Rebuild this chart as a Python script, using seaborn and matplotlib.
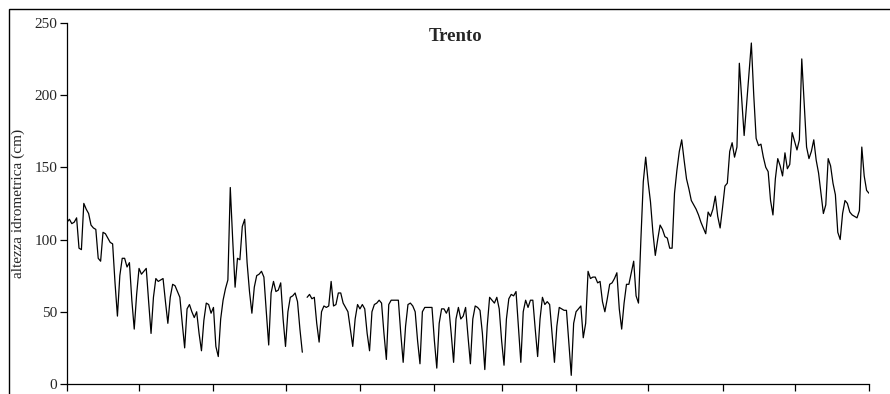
import numpy as np
import pandas as pd
import matplotlib
matplotlib.use("Agg")
import matplotlib.pyplot as plt
from matplotlib.patches import Rectangle
import seaborn as sns

# daily water level (cm), one list per month, Sep 2002 .. 1 Aug 2003
sep = [112, 114, 111, 112, 115, 94, 93, 125, 121, 118, 110, 108, 107, 87, 85,
       105, 104, 101, 98, 97, 70, 47, 75, 87, 87, 81, 84, 58, 38, 62]
oct_ = [80, 76, 78, 80, 57, 35, 60, 73, 71, 72, 73, 57, 42, 60, 69, 68, 64, 60,
        42, 25, 52, 55, 50, 46, 50, 35, 23, 44, 56, 55, 49]
nov = [53, 26, 19, 45, 58, 66, 72, 136, 100, 67, 87, 86, 109, 114, 84, 64, 49,
       67, 75, 76, 78, 74, 50, 27, 63, 71, 64, 65, 70, 45]
dec = [26, 50, 60, 61, 63, 57, 38, 22, np.nan, 60, 62, 59, 60, 42, 29, 50, 54,
       53, 54, 71, 54, 55, 63, 63, 56, 53, 50, 38, 26, 45, 55]
jan = [52, 55, 52, 35, 23, 50, 55, 56, 58, 56, 35, 17, 55, 58, 58, 58, 58, 35,
       15, 40, 55, 56, 54, 50, 30, 14, 50, 53, 53, 53, 53]
feb = [30, 11, 42, 52, 52, 49, 53, 35, 15, 45, 53, 45, 47, 53, 33, 14, 45, 54,
       53, 51, 35, 10, 40, 60, 58, 56, 60, 52]
mar = [30, 13, 45, 59, 62, 61, 64, 40, 15, 50, 58, 53, 58, 58, 38, 19, 45, 60,
       55, 57, 55, 35, 15, 40, 53, 52, 51, 51, 28, 6, 42]
apr = [50, 52, 54, 32, 42, 78, 73, 74, 74, 70, 71, 57, 50, 59, 69, 70, 73, 77,
       52, 38, 56, 69, 69, 77, 85, 61, 56, 100, 140, 157]
may = [140, 126, 105, 89, 100, 110, 107, 102, 101, 94, 94, 132, 148, 161, 169,
       155, 142, 135, 127, 124, 121, 117, 112, 108, 104, 119, 116, 121, 130,
       116, 108]
jun = [122, 137, 139, 161, 167, 157, 164, 222, 197, 172, 193, 215, 236, 200,
       170, 165, 166, 157, 150, 147, 127, 117, 142, 156, 151, 144, 160, 149,
       152, 174]
jul = [168, 162, 169, 225, 195, 164, 156, 161, 169, 155, 146, 132, 118, 124,
       156, 151, 139, 131, 105, 100, 118, 127, 125, 119, 117, 116, 115, 120,
       164, 144, 134]
aug = [132]

months = [sep, oct_, nov, dec, jan, feb, mar, apr, may, jun, jul, aug]
y_ticks = [0, 50, 100, 150, 200, 250]
title = "Trento"
y_label = "altezza idrometrica (cm)"

values = np.concatenate([np.array(m, dtype=float) for m in months])
dates = pd.date_range("2002-09-01", periods=len(values), freq="D")
df = pd.DataFrame({"data": dates, "livello": values})
# missing days break the line
df["tratto"] = df["livello"].isna().cumsum()
df = df.dropna()

sns.set_theme(style="ticks")
plt.rcParams["font.family"] = ["Liberation Serif", "DejaVu Serif"]

fig = plt.figure(figsize=(8.9, 3.94), dpi=100)
ax = fig.add_axes([67 / 890, 10 / 394, 802 / 890, 361.2 / 394])

sns.lineplot(data=df, x="data", y="livello", units="tratto", estimator=None,
             color="black", linewidth=0.9, ax=ax)

ax.set_xlim(pd.Timestamp("2002-09-01"), pd.Timestamp("2003-08-01"))
ax.set_xticks(pd.date_range("2002-09-01", "2003-08-01", freq="MS"))
ax.set_xticklabels([])
ax.set_ylim(0, 250)
ax.set_yticks(y_ticks)
ax.set_yticklabels([str(t) for t in y_ticks], fontsize=11)
ax.tick_params(axis="both", direction="out", length=5, width=0.9,
               color="black", pad=2)
ax.set_xlabel("")
ax.set_ylabel(y_label, fontsize=11)
ax.yaxis.set_label_coords(-42 / 802, 0.5)

for side in ["top", "right"]:
    ax.spines[side].set_visible(False)
for side in ["left", "bottom"]:
    ax.spines[side].set_color("black")
    ax.spines[side].set_linewidth(0.9)

ax.text(0.484, 0.963, title, transform=ax.transAxes, ha="center", va="center",
        fontsize=13.5, fontweight="bold")

# chart area frame
fig.add_artist(Rectangle((9 / 890, -0.02), 1.0, 1 - 9 / 394 + 0.02,
                         transform=fig.transFigure, fill=False,
                         edgecolor="black", linewidth=1.0))

fig.savefig("out.png", dpi=100, facecolor="white")
